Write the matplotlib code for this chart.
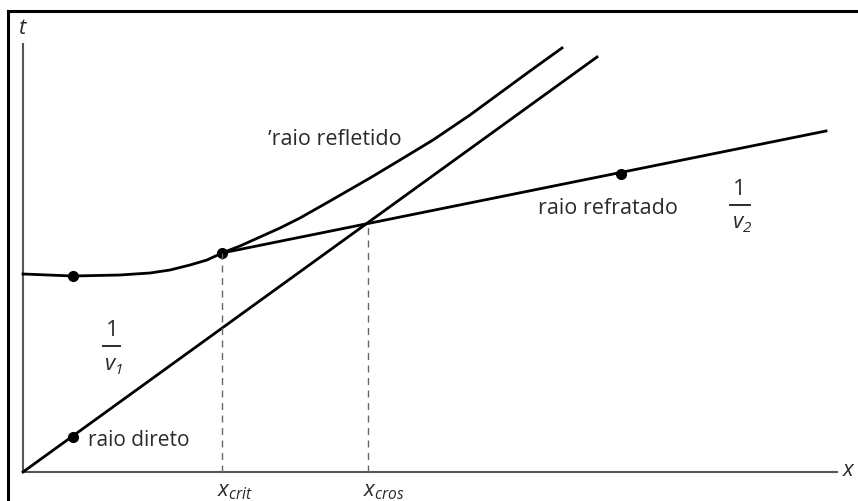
import matplotlib
matplotlib.use("Agg")
import matplotlib.pyplot as plt
from matplotlib.lines import Line2D

plt.rcParams['font.family'] = ['Open Sans', 'DejaVu Sans']
plt.rcParams['mathtext.fontset'] = 'custom'
plt.rcParams['mathtext.it'] = 'Open Sans:italic'
plt.rcParams['mathtext.rm'] = 'Open Sans'

# dados (unidades arbitrarias, origem no canto dos eixos)
direto_x = [0, 574]
direto_t = [0, 415]

refratado_x = [199, 803]
refratado_t = [219, 341]

refletido_x = [0, 50, 97, 127, 147, 167, 184, 199, 217, 237, 257, 277, 307, 347, 377, 410, 447, 477, 507, 539]
refletido_t = [198, 196, 197, 199, 202, 207, 212, 219, 226, 235, 244, 254, 271, 294, 312, 332, 357, 379, 401, 424]

pontos_x = [50, 50, 199, 598]
pontos_t = [35, 196, 219, 298]

x_crit = 199
t_crit = 219
x_cros = 345
t_cros = 248

eixo_x_max = 815
eixo_t_max = 429

cor_texto = '#2b2b2b'

fig = plt.figure(figsize=(8.58, 5.01), dpi=100)
ax = fig.add_axes([0, 0, 1, 1])
ax.set_xlim(-23, 835)
ax.set_ylim(-29, 472)
ax.axis('off')

# eixos
ax.plot([0, eixo_x_max], [0, 0], color='#555555', lw=1.5, solid_capstyle='butt')
ax.plot([0, 0], [0, eixo_t_max], color='#555555', lw=1.5, solid_capstyle='butt')

# curvas
ax.plot(direto_x, direto_t, color='black', lw=2.0)
ax.plot(refratado_x, refratado_t, color='black', lw=2.0)
ax.plot(refletido_x, refletido_t, color='black', lw=2.0, solid_joinstyle='round')
ax.plot(pontos_x, pontos_t, 'o', color='black', ms=7)

# linhas tracejadas
ax.plot([x_crit, x_crit], [0, t_crit], color='#666666', lw=1.0, ls=(0, (5, 4)))
ax.plot([x_cros, x_cros], [0, t_cros], color='#666666', lw=1.0, ls=(0, (5, 4)))

# rotulos
ax.text(0, 444, r'$t$', fontsize=16, ha='center', va='center', color=cor_texto)
ax.text(826, 2, r'$x$', fontsize=16, ha='center', va='center', color=cor_texto)
ax.text(x_crit - 5, -20, r'$x_{crit}$', fontsize=16, ha='left', va='center', color=cor_texto)
ax.text(x_cros - 5, -20, r'$x_{cros}$', fontsize=16, ha='left', va='center', color=cor_texto)

ax.text(245, 333, '\u02bcraio refletido', fontsize=15.5, ha='left', va='center', color=cor_texto)
ax.text(515, 264, 'raio refratado', fontsize=15.5, ha='left', va='center', color=cor_texto)
ax.text(65, 32, 'raio direto', fontsize=15, ha='left', va='center', color=cor_texto)

# 1/v1
ax.text(89, 142, '1', fontsize=16, ha='center', va='center', color=cor_texto)
ax.plot([80, 97], [126, 126], color=cor_texto, lw=1.4)
ax.text(82, 108, 'v', fontsize=16, style='italic', ha='left', va='center', color=cor_texto)
ax.text(92, 102, '1', fontsize=11, style='italic', ha='left', va='center', color=cor_texto)

# 1/v2
ax.text(716, 283, '1', fontsize=16, ha='center', va='center', color=cor_texto)
ax.plot([707, 727], [267, 267], color=cor_texto, lw=1.4)
ax.text(710, 250, 'v', fontsize=16, style='italic', ha='left', va='center', color=cor_texto)
ax.text(720, 244, '2', fontsize=11, style='italic', ha='left', va='center', color=cor_texto)

# moldura
fig.add_artist(Line2D([8 / 858, 8 / 858], [0, 1 - 11 / 501], color='black', lw=2.2, transform=fig.transFigure))
fig.add_artist(Line2D([8 / 858, 1], [1 - 11 / 501, 1 - 11 / 501], color='black', lw=2.2, transform=fig.transFigure))

fig.savefig('out.png', dpi=100, facecolor='white')
